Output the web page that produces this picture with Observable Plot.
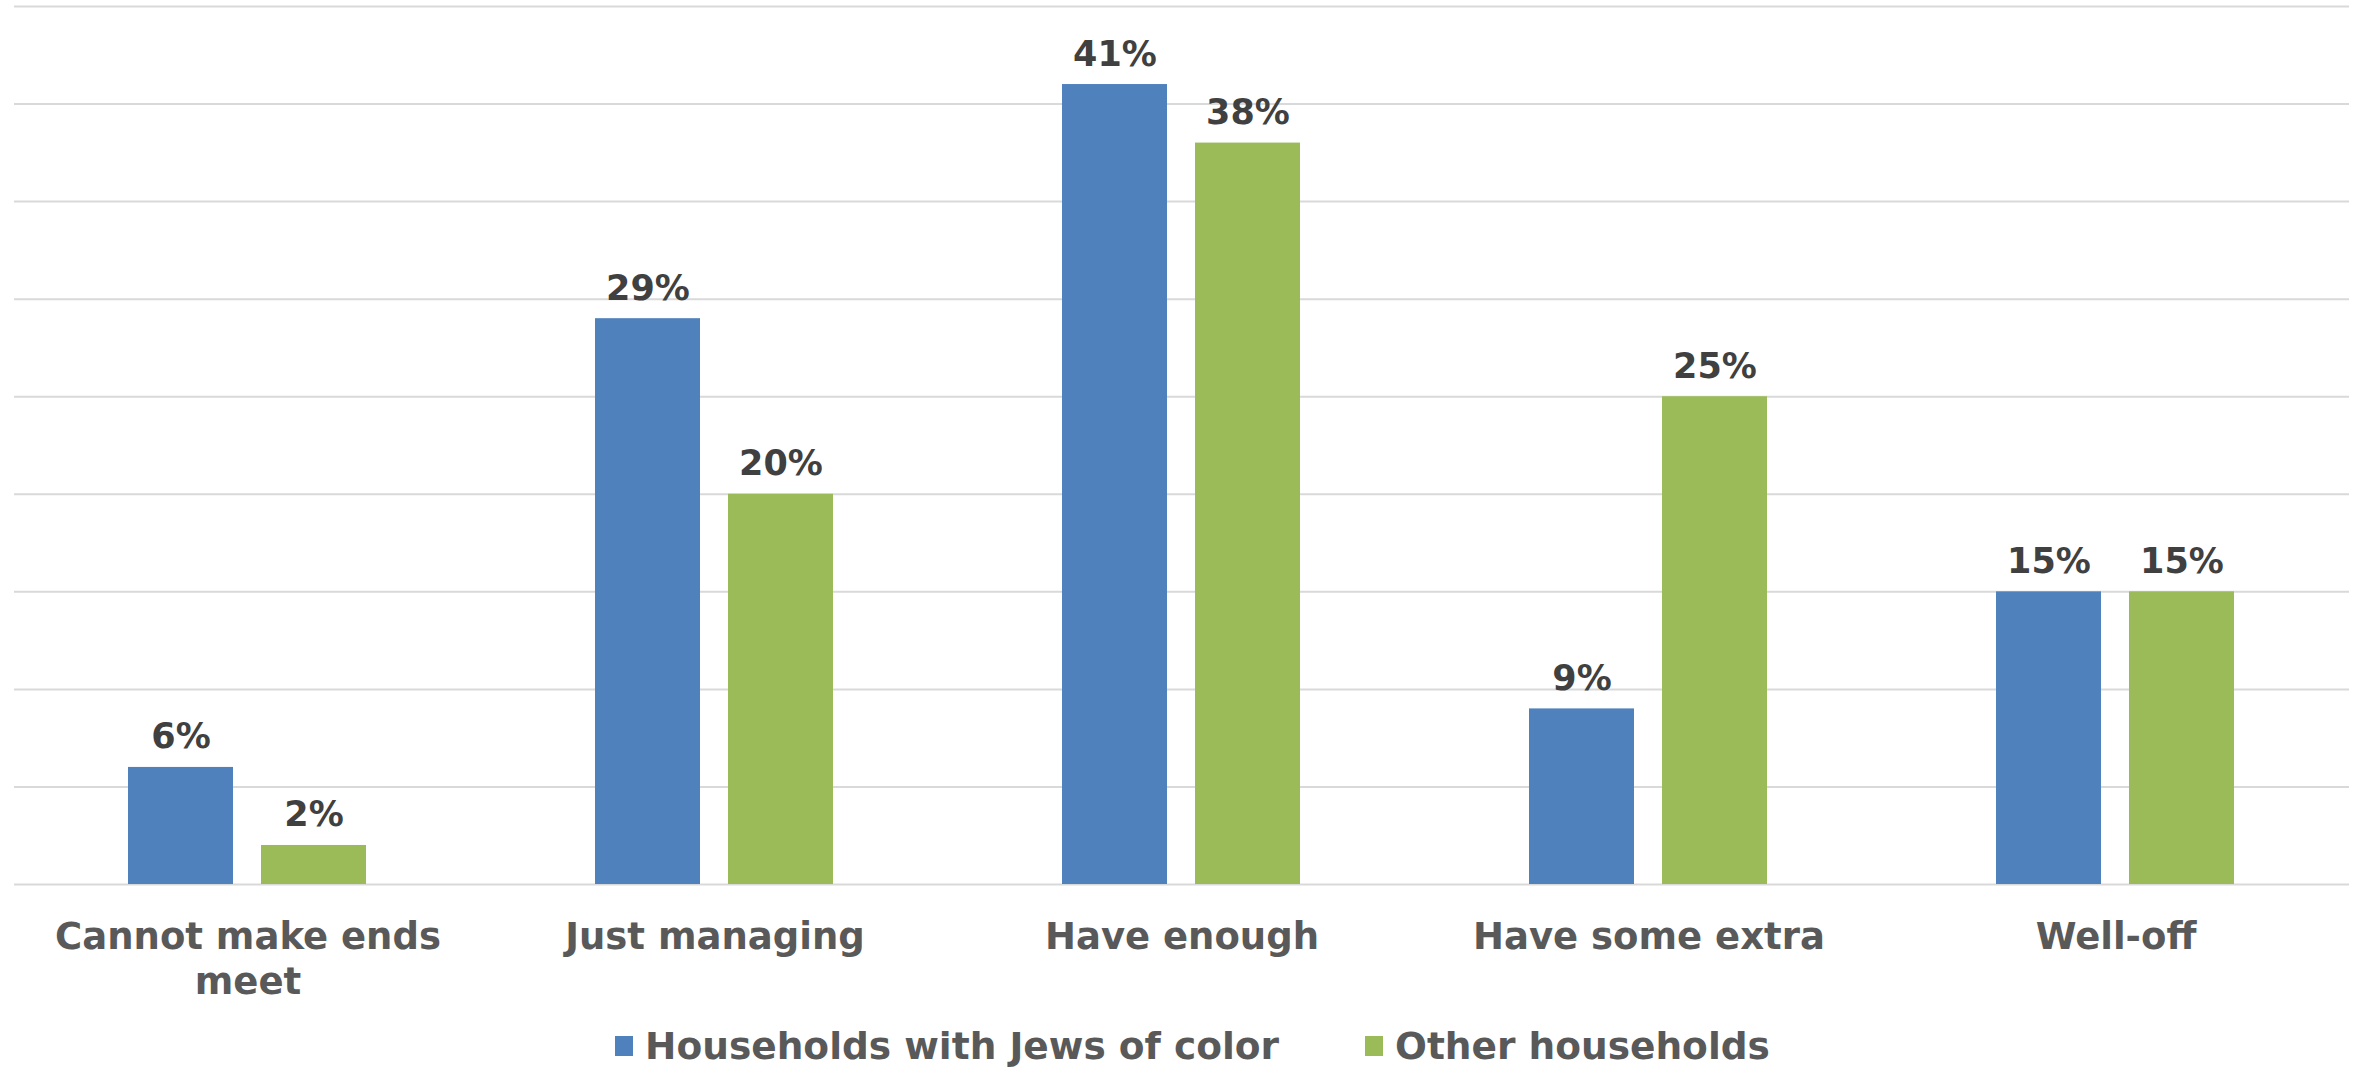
<!DOCTYPE html>
<html>
<head>
<meta charset="utf-8">
<script src="https://cdn.jsdelivr.net/npm/d3@7"></script>
<script src="https://cdn.jsdelivr.net/npm/@observablehq/plot@0.6"></script>
<style>
  html, body { margin: 0; padding: 0; background: #ffffff; }
  body { width: 2363px; height: 1067px; overflow: hidden; font-family: "DejaVu Sans", Verdana, sans-serif; }
  #legend { height: 72px; display: flex; align-items: center; justify-content: center; gap: 86px;
            padding-left: 22px; font-weight: bold; font-size: 37.5px; color: #595959; }
  .item { display: flex; align-items: center; gap: 12px; }
  .sw { width: 18px; height: 20px; display: inline-block; }
</style>
</head>
<body>
<div id="chart"></div>
<div id="legend"></div>
<script>
const categories = ["Cannot make ends meet", "Just managing", "Have enough", "Have some extra", "Well-off"];
const categoryLabels = ["Cannot make ends\nmeet", "Just managing", "Have enough", "Have some extra", "Well-off"];
const seriesNames = ["Households with Jews of color", "Other households"];
const seriesColors = ["#4f81bd", "#9bbb59"];
const jocValues = [6, 29, 41, 9, 15];
const otherValues = [2, 20, 38, 25, 15];
const yTicks = [0, 5, 10, 15, 20, 25, 30, 35, 40, 45];

const data = [];
categories.forEach((c, i) => {
  data.push({category: c, series: seriesNames[0], value: jocValues[i]});
  data.push({category: c, series: seriesNames[1], value: otherValues[i]});
});
const labelOf = new Map(categories.map((c, i) => [c, categoryLabels[i]]));

const chart = Plot.plot({
  width: 2363,
  height: 1010,
  marginLeft: 13,
  marginRight: 13,
  marginTop: 6,
  marginBottom: 126,
  style: {fontFamily: "'DejaVu Sans', Verdana, sans-serif", background: "#ffffff"},
  fx: {domain: categories, padding: 0, label: null},
  x: {domain: seriesNames, paddingInner: 0.21, paddingOuter: 0.86, axis: null},
  y: {domain: [0, 45], axis: null},
  color: {domain: seriesNames, range: seriesColors},
  marks: [
    Plot.ruleY(yTicks, {stroke: "#d9d9d9", strokeWidth: 2}),
    Plot.barY(data, {fx: "category", x: "series", y: "value", fill: "series"}),
    Plot.text(data, {fx: "category", x: "series", y: "value", text: d => d.value + "%",
      lineAnchor: "bottom", dy: -19, fontSize: 35, fontWeight: "bold", fill: "#404040"}),
    Plot.axisFx({anchor: "bottom", tickSize: 0, tickPadding: 32, tickFormat: d => labelOf.get(d),
      fontSize: 37, fontWeight: "bold", fill: "#595959", lineHeight: 1.22, label: null})
  ]
});
document.getElementById("chart").appendChild(chart);

const legend = document.getElementById("legend");
seriesNames.forEach((s, i) => {
  const item = document.createElement("div");
  item.className = "item";
  const sw = document.createElement("span");
  sw.className = "sw";
  sw.style.background = seriesColors[i];
  const t = document.createElement("span");
  t.textContent = s;
  item.appendChild(sw);
  item.appendChild(t);
  legend.appendChild(item);
});
</script>
</body>
</html>
